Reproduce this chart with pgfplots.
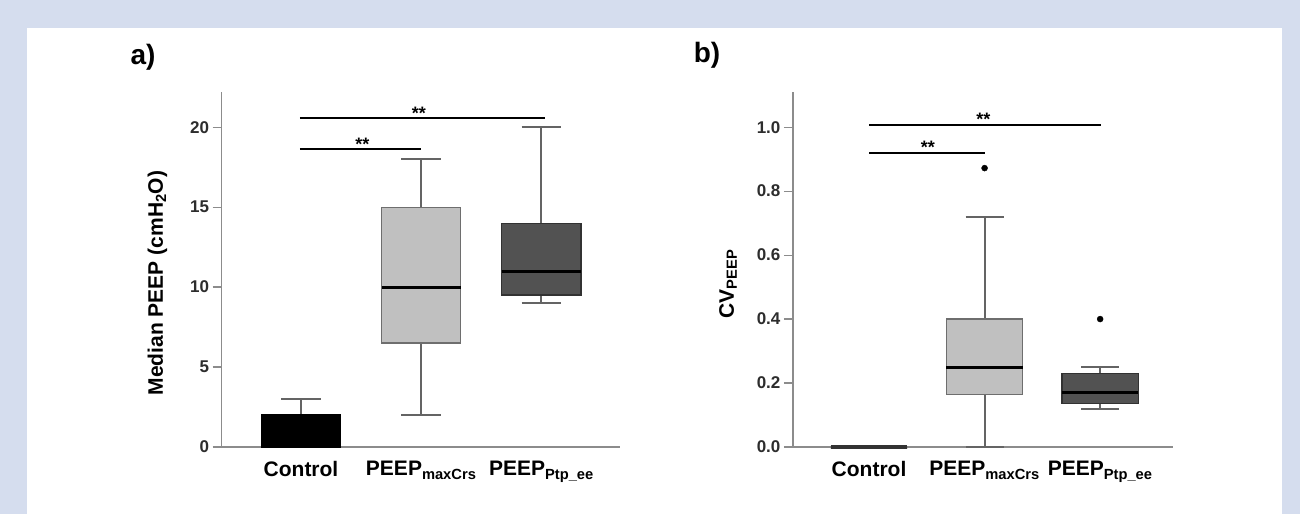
\documentclass[border=0pt]{standalone}
\usepackage{fontspec}
\setmainfont{Liberation Sans}
\usepackage{pgfplots}
\pgfplotsset{compat=1.18}
\usepgfplotslibrary{statistics}
\definecolor{bgblue}{RGB}{213,221,238}
\definecolor{lightbox}{RGB}{192,192,192}
\definecolor{lightedge}{RGB}{110,110,110}
\definecolor{darkbox}{RGB}{82,82,82}
\definecolor{darkedge}{RGB}{50,50,50}
\definecolor{axgray}{RGB}{140,140,140}
\definecolor{whisk}{RGB}{100,100,100}
\definecolor{ticktext}{RGB}{45,45,45}
\tikzset{sigstar/.style={font=\fontsize{18}{19}\selectfont\bfseries, yshift=-4pt}}
\pgfplotsset{
  myaxis/.style={
    scale only axis,
    axis lines=left,
    axis line style={draw=axgray, line width=1.5pt, -},
    xtick={0,1,2},
    xticklabels={Control, PEEP\textsubscript{maxCrs}, PEEP\textsubscript{Ptp\_ee}},
    x tick style={draw=none},
    tick align=outside,
    y tick style={draw=axgray, line width=1.2pt},
    major tick length=9pt,
    yticklabel style={font=\fontsize{17}{18}\selectfont\bfseries, text=ticktext},
    xticklabel style={font=\fontsize{21}{24}\selectfont\bfseries, text=black, yshift=-2pt},
    /pgf/number format/assume math mode=true,
    clip=false,
    boxplot/draw direction=y,
    boxplot/box extend=0.66,
    boxplot/whisker extend=0.33,
    boxplot/every whisker/.style={draw=whisk, line width=2pt},
    boxplot/every median/.style={draw=black, line width=3pt},
  },
}
\begin{document}
\begin{tikzpicture}
\fill[bgblue] (0pt,0pt) rectangle (1300pt,514pt);
\fill[white] (27pt,0pt) rectangle (1282pt,486pt);
\node[font=\fontsize{28}{30}\selectfont\bfseries] at (143pt,457pt) {a)};
\node[font=\fontsize{28}{30}\selectfont\bfseries] at (707pt,459pt) {b)};

% Panel a
\begin{axis}[myaxis,
  at={(301pt,67pt)}, anchor=origin,
  width=398pt, height=355pt,
  xmin=-0.661, xmax=2.65,
  ymin=0, ymax=22.2,
  ytick={0,5,10,15,20},
  ylabel={Median PEEP (cmH\textsubscript{2}O)},
  every axis y label/.style={at={(axis description cs:-0.161,0.462)}, rotate=90, anchor=center, font=\fontsize{21}{24}\selectfont\bfseries},
]
\addplot[boxplot prepared={draw position=0, lower whisker=0, lower quartile=0, median=2, upper quartile=2, upper whisker=3},
  boxplot/every box/.style={draw=black, fill=black, line width=1pt}] coordinates {};
\addplot[boxplot prepared={draw position=1, lower whisker=2, lower quartile=6.5, median=10, upper quartile=15, upper whisker=18},
  boxplot/every box/.style={draw=lightedge, fill=lightbox, line width=1.2pt}] coordinates {};
\addplot[boxplot prepared={draw position=2, lower whisker=9, lower quartile=9.5, median=11, upper quartile=14, upper whisker=20},
  boxplot/every box/.style={draw=darkedge, fill=darkbox, line width=1.2pt}] coordinates {};
\addplot[black, line width=1.8pt] coordinates {(-0.01,18.62) (1.0,18.62)};
\addplot[black, line width=1.8pt] coordinates {(-0.01,20.56) (2.03,20.56)};
\node[sigstar] at (axis cs:0.51,19.15) {**};
\node[sigstar] at (axis cs:0.98,21.1) {**};
\end{axis}

% Panel b
\begin{axis}[myaxis,
  at={(869pt,67pt)}, anchor=origin,
  width=380pt, height=355pt,
  xmin=-0.658, xmax=2.63,
  ymin=0, ymax=1.11,
  ytick={0,0.2,0.4,0.6,0.8,1.0},
  yticklabel style={/pgf/number format/.cd, fixed, fixed zerofill, precision=1},
  ylabel={CV\textsubscript{PEEP}},
  every axis y label/.style={at={(axis description cs:-0.171,0.459)}, rotate=90, anchor=center, font=\fontsize{21}{24}\selectfont\bfseries},
]
\addplot[boxplot prepared={draw position=0, lower whisker=0, lower quartile=0, median=0, upper quartile=0, upper whisker=0},
  boxplot/every box/.style={draw=darkedge, line width=3pt},
  boxplot/every median/.style={draw=darkedge, line width=3.5pt}] coordinates {};
\addplot[boxplot prepared={draw position=1, lower whisker=0, lower quartile=0.165, median=0.25, upper quartile=0.40, upper whisker=0.72},
  boxplot/every box/.style={draw=lightedge, fill=lightbox, line width=1.2pt},
  mark=*, mark size=3pt, mark options={draw=black, fill=black}] coordinates {(1,0.872)};
\addplot[boxplot prepared={draw position=2, lower whisker=0.12, lower quartile=0.135, median=0.17, upper quartile=0.23, upper whisker=0.25},
  boxplot/every box/.style={draw=darkedge, fill=darkbox, line width=1.2pt},
  mark=*, mark size=3pt, mark options={draw=black, fill=black}] coordinates {(2,0.40)};
\addplot[black, line width=1.8pt] coordinates {(0.0,0.919) (1.0,0.919)};
\addplot[black, line width=1.8pt] coordinates {(0.0,1.006) (2.01,1.006)};
\node[sigstar] at (axis cs:0.51,0.95) {**};
\node[sigstar] at (axis cs:0.99,1.037) {**};
\end{axis}
\end{tikzpicture}
\end{document}
